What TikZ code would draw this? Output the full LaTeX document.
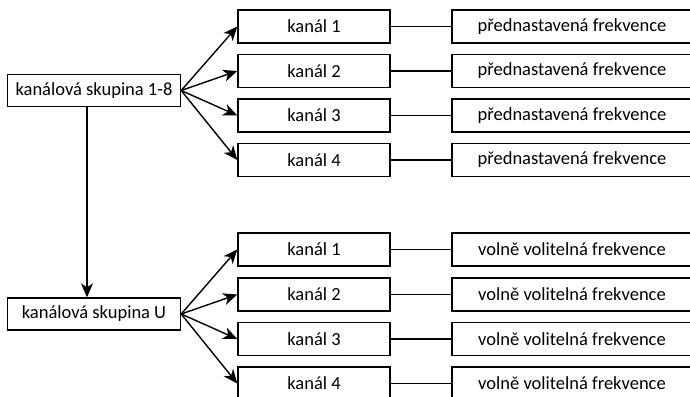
\documentclass[tikz,border=0pt]{standalone}
\usepackage{fontspec}
\setmainfont{Carlito}
\usetikzlibrary{arrows.meta,positioning}

\begin{document}
\begin{tikzpicture}[
    x=1pt, y=-1pt,
    skupina/.style={rectangle, draw, line width=1.4pt, minimum width=173pt, minimum height=32pt, inner sep=0pt, font=\fontsize{18.5}{20}\selectfont},
    kanal/.style={rectangle, draw, line width=1.4pt, minimum width=152pt, minimum height=33pt, inner sep=0pt, font=\fontsize{18.5}{20}\selectfont},
    frekv/.style={rectangle, draw, line width=1.4pt, minimum width=240pt, minimum height=33pt, inner sep=0pt, font=\fontsize{18.5}{20}\selectfont},
    arrow/.style={-{Stealth[length=14pt, width=12pt, inset=4pt]}, line width=1.4pt},
    spoj/.style={line width=1.4pt}
]
    \useasboundingbox (0,0) rectangle (690,396);
    \clip (0,0) rectangle (690,396);

    % Skupiny kanalu
    \node[skupina] (sk18) at (94,90.5) {kanálová skupina 1-8};
    \node[skupina] (skU) at (94,314) {kanálová skupina U};

    % Kanaly skupiny 1-8
    \node[kanal] (a1) at (314,26.5) {kanál 1};
    \node[kanal] (a2) at (314,71) {kanál 2};
    \node[kanal] (a3) at (314,115.5) {kanál 3};
    \node[kanal] (a4) at (314,160) {kanál 4};

    % Kanaly skupiny U
    \node[kanal] (b1) at (314,249.5) {kanál 1};
    \node[kanal] (b2) at (314,294.5) {kanál 2};
    \node[kanal] (b3) at (314,339) {kanál 3};
    \node[kanal] (b4) at (314,383.5) {kanál 4};

    % Frekvence
    \node[frekv] (fa1) at (572,26.5) {přednastavená frekvence};
    \node[frekv] (fa2) at (572,71) {přednastavená frekvence};
    \node[frekv] (fa3) at (572,115.5) {přednastavená frekvence};
    \node[frekv] (fa4) at (572,160) {přednastavená frekvence};
    \node[frekv] (fb1) at (572,249.5) {volně volitelná frekvence};
    \node[frekv] (fb2) at (572,294.5) {volně volitelná frekvence};
    \node[frekv] (fb3) at (572,339) {volně volitelná frekvence};
    \node[frekv] (fb4) at (572,383.5) {volně volitelná frekvence};

    % Sipky ze skupin
    \draw[arrow] (sk18.east) -- (a1.west);
    \draw[arrow] (sk18.east) -- (a2.west);
    \draw[arrow] (sk18.east) -- (a3.west);
    \draw[arrow] (sk18.east) -- (a4.west);
    \draw[arrow] (skU.east) -- (b1.west);
    \draw[arrow] (skU.east) -- (b2.west);
    \draw[arrow] (skU.east) -- (b3.west);
    \draw[arrow] (skU.east) -- (b4.west);
    \draw[arrow] ([xshift=-7pt]sk18.south) -- ([xshift=-7pt]skU.north);

    % Spojeni kanal - frekvence
    \draw[spoj] (a1) -- (fa1);
    \draw[spoj] (a2) -- (fa2);
    \draw[spoj] (a3) -- (fa3);
    \draw[spoj] (a4) -- (fa4);
    \draw[spoj] (b1) -- (fb1);
    \draw[spoj] (b2) -- (fb2);
    \draw[spoj] (b3) -- (fb3);
    \draw[spoj] (b4) -- (fb4);
\end{tikzpicture}
\end{document}
